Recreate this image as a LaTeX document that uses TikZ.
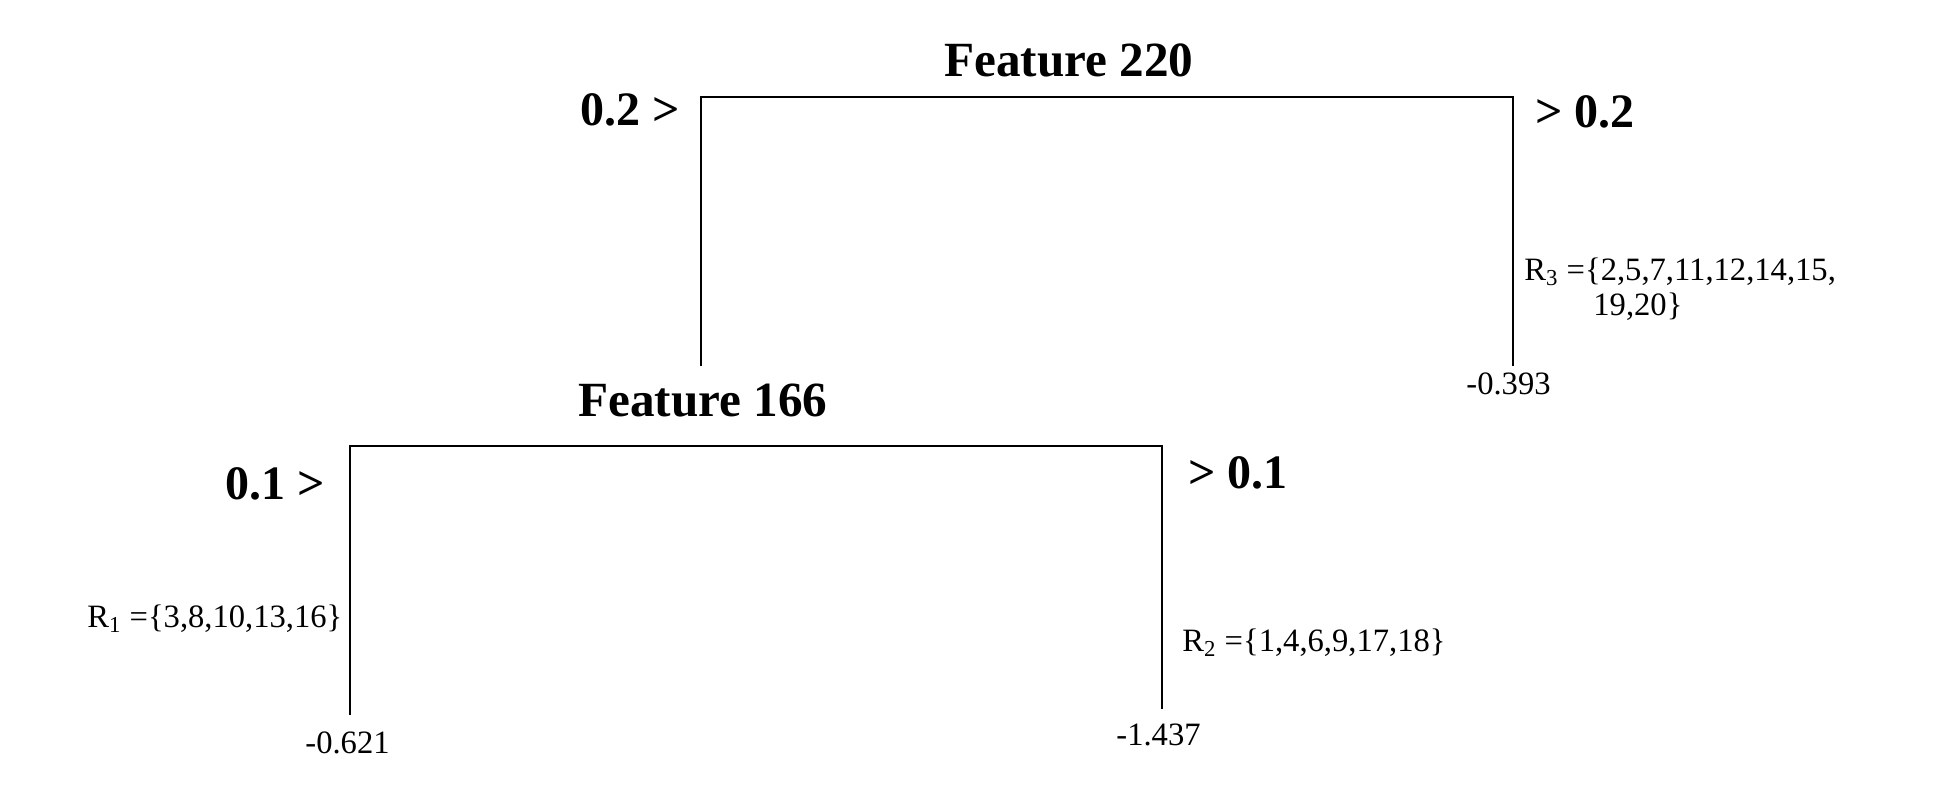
\documentclass[tikz,border=0pt]{standalone}
\usepackage{fontspec}
\setmainfont{Liberation Serif}
\begin{document}
\begin{tikzpicture}[x=0.5pt,y=-0.5pt,
  branch/.style={line width=1pt, line cap=rect},
  feat/.style={anchor=base west, inner sep=0pt, font=\bfseries\fontsize{24.6}{29}\selectfont},
  cond/.style={anchor=base west, inner sep=0pt, font=\bfseries\fontsize{24}{29}\selectfont},
  info/.style={anchor=base west, inner sep=0pt, font=\fontsize{16.3}{19}\selectfont}]
\useasboundingbox (0,0) rectangle (1948,786);
% top split
\coordinate (tl) at (701,97);
\coordinate (tr) at (1513,97);
\coordinate (tlb) at (701,365);
\coordinate (trb) at (1513,365);
\draw[branch] (tlb) -- (tl) -- (tr) -- (trb);
% lower split
\coordinate (ll) at (350,446);
\coordinate (lr) at (1162,446);
\coordinate (llb) at (350,714);
\coordinate (lrb) at (1162,708);
\draw[branch] (llb) -- (ll) -- (lr) -- (lrb);
% labels
\node[feat] (f220) at (944,77) {Feature 220};
\node[cond] (c1l) at (580,126) {0.2 >};
\node[cond] (c1r) at (1535,128) {> 0.2};
\node[info] (r3a) at (1524,280) {R\textsubscript{3} =\{2,5,7,11,12,14,15,};
\node[info] (r3b) at (1593,315) {19,20\}};
\node[info] (v3) at (1466,394) {-0.393};
\node[feat] (f166) at (578,416) {Feature 166};
\node[cond] (c2l) at (225,499) {0.1 >};
\node[cond] (c2r) at (1188,488) {> 0.1};
\node[info] (r1) at (87,627) {R\textsubscript{1} =\{3,8,10,13,16\}};
\node[info] (r2) at (1182,651) {R\textsubscript{2} =\{1,4,6,9,17,18\}};
\node[info] (v1) at (305,753) {-0.621};
\node[info] (v2) at (1116,745) {-1.437};
\end{tikzpicture}
\end{document}
